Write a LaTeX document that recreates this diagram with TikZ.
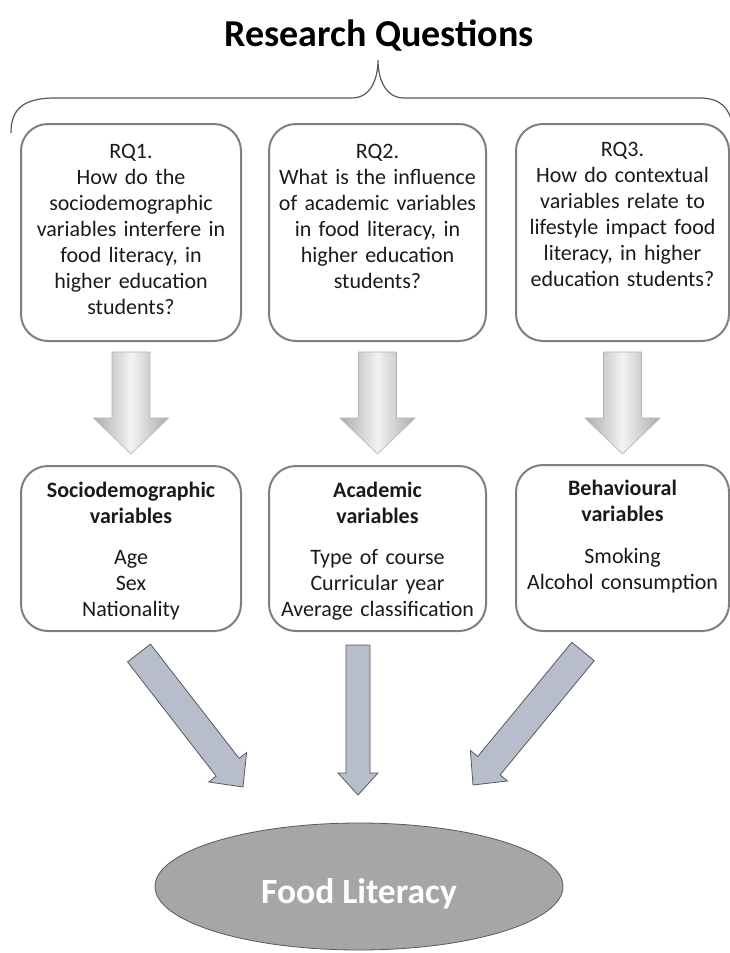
\documentclass[tikz,border=0pt]{standalone}
\usepackage{fontspec}
\setmainfont{Carlito}
\usetikzlibrary{positioning,calc,shapes.geometric}

\definecolor{boxline}{HTML}{7F7F7F}
\definecolor{inktext}{HTML}{1A1A1A}
\definecolor{flatblue}{HTML}{B8BDCB}
\definecolor{darkline}{HTML}{595959}
\definecolor{litfill}{HTML}{A6A6A6}

\begin{document}
\begin{tikzpicture}[x=1pt, y=-1pt,
    every node/.style={text=inktext, font=\fontsize{22}{26}\selectfont},
    rqbox/.style={draw=boxline, line width=2pt, rounded corners=27pt, align=center, inner sep=0pt},
    % block arrow between two points: shaft half width / head half width / head length
    blockarrow/.style args={#1/#2/#3}{to path={
        ($(\tikztostart)!#1!90:(\tikztotarget)$)
        -- ($(\tikztotarget)!#3!(\tikztostart)!#1!-90:(\tikztostart)$)
        -- ($(\tikztotarget)!#3!(\tikztostart)!#2!-90:(\tikztostart)$)
        -- (\tikztotarget)
        -- ($(\tikztotarget)!#3!(\tikztostart)!#2!90:(\tikztostart)$)
        -- ($(\tikztotarget)!#3!(\tikztostart)!#1!90:(\tikztostart)$)
        -- ($(\tikztostart)!#1!-90:(\tikztotarget)$)
        -- cycle}},
    metal/.style={draw=gray!60, line width=0.6pt, left color=gray!65, right color=gray!65, middle color=gray!10},
    flat/.style={fill=flatblue, draw=darkline, line width=0.8pt}]
    \useasboundingbox (0,0) rectangle (730,953);

    % heading
    \node[font=\fontsize{38}{44}\selectfont\bfseries, text=black, anchor=base] (title) at (379,46) {Research Questions};
    \draw[line width=1.2pt, darkline] (11,133) .. controls (11,110) and (22,98) .. (55,98) -- (352,98)
        .. controls (370,98) and (378,80) .. (378,60) .. controls (378,80) and (386,98) .. (404,98)
        -- (700,98) .. controls (720,98) and (730,108) .. (732,125);

    % research questions
    \node[rqbox, anchor=north west, text width=220pt, text height=34pt, text depth=183pt] (q1) at (20,123)
        {RQ1.\\How do the\\sociodemographic\\variables interfere in\\food literacy, in\\higher education\\students?};
    \node[rqbox, anchor=north west, text width=217pt, text height=34pt, text depth=183pt] (q2) at (268,123)
        {RQ2.\\What is the influence\\of academic variables\\in food literacy, in\\higher education\\students?};
    \node[rqbox, anchor=north west, text width=213pt, text height=32pt, text depth=185pt] (q3) at (515,123)
        {RQ3.\\How do contextual\\variables relate to\\lifestyle impact food\\literacy, in higher\\education students?};

    % variables
    \node[rqbox, below=123pt of q1, text width=220pt, text height=31pt, text depth=134pt] (v1)
        {\textbf{Sociodemographic}\\\textbf{variables}\\[15pt]Age\\Sex\\Nationality};
    \node[rqbox, below=123pt of q2, text width=217pt, text height=31pt, text depth=134pt] (v2)
        {\textbf{Academic}\\\textbf{variables}\\[15pt]Type of course\\Curricular year\\Average classification};
    \node[rqbox, below=122pt of q3, text width=213pt, text height=30pt, text depth=136pt] (v3)
        {\textbf{Behavioural}\\\textbf{variables}\\[16pt]Smoking\\Alcohol consumption};

    % outcome
    \node[ellipse, fill=litfill, draw=darkline, line width=0.8pt, minimum width=408pt, minimum height=127pt,
        inner sep=0pt, text=white, font=\fontsize{35.5}{40}\selectfont\bfseries, text height=33pt, text depth=0pt]
        (lit) at (359,886.5) {Food Literacy};

    % arrows from questions to variables
    \coordinate (a1s) at ([yshift=-10pt]q1.south);
    \coordinate (a1e) at ([yshift=11pt]v1.north);
    \coordinate (a2s) at ([yshift=-10pt]q2.south);
    \coordinate (a2e) at ([yshift=11pt]v2.north);
    \coordinate (a3s) at ([yshift=-10pt]q3.south);
    \coordinate (a3e) at ([yshift=10pt]v3.north);
    \path[metal, blockarrow=19pt/37.5pt/36pt] (a1s) to (a1e);
    \path[metal, blockarrow=19pt/37.5pt/36pt] (a2s) to (a2e);
    \path[metal, blockarrow=19pt/37.5pt/36pt] (a3s) to (a3e);

    % arrows from variables to food literacy
    \coordinate (b1s) at (139,653);
    \coordinate (b1e) at (243,787);
    \coordinate (b2s) at (358,645);
    \coordinate (b2e) at (358,795);
    \coordinate (b3s) at (583,651.5);
    \coordinate (b3e) at (473,785);
    \path[flat, blockarrow=14.5pt/24pt/25pt] (b1s) to (b1e);
    \path[flat, blockarrow=12pt/20pt/22pt] (b2s) to (b2e);
    \path[flat, blockarrow=14.5pt/24pt/25pt] (b3s) to (b3e);
\end{tikzpicture}
\end{document}
